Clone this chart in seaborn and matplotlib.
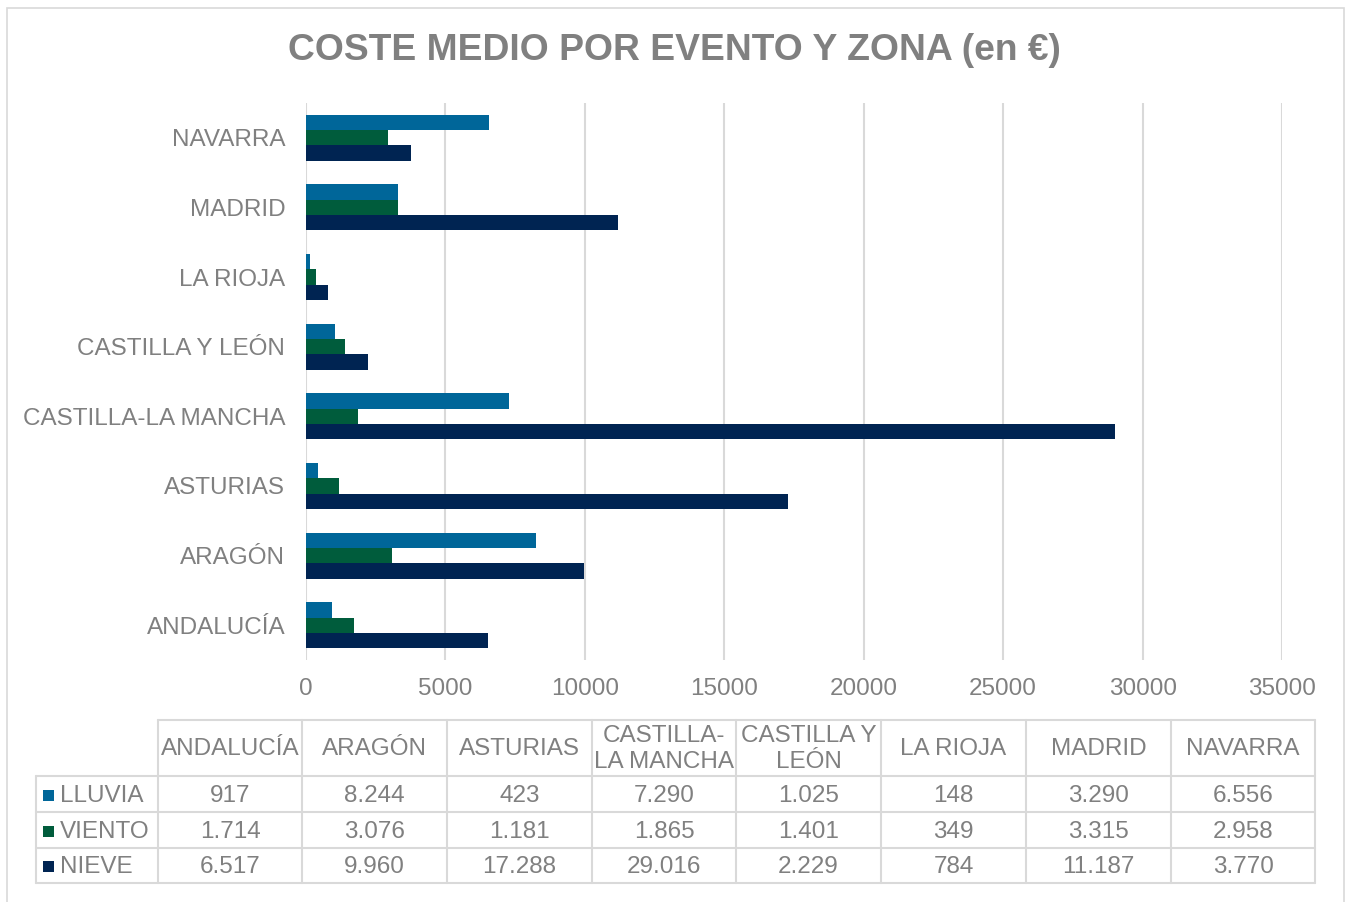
import matplotlib
matplotlib.use("Agg")
import matplotlib.pyplot as plt
from matplotlib.patches import Rectangle
from matplotlib.lines import Line2D
import seaborn as sns
import pandas as pd

# Data: average cost per event type and region (EUR)
regions = ["ANDALUCÍA", "ARAGÓN", "ASTURIAS", "CASTILLA-LA MANCHA",
           "CASTILLA Y LEÓN", "LA RIOJA", "MADRID", "NAVARRA"]
table_headers = ["ANDALUCÍA", "ARAGÓN", "ASTURIAS", "CASTILLA-\nLA MANCHA",
                 "CASTILLA Y\nLEÓN", "LA RIOJA", "MADRID", "NAVARRA"]
events = ["LLUVIA", "VIENTO", "NIEVE"]
lluvia = [917, 8244, 423, 7290, 1025, 148, 3290, 6556]
viento = [1714, 3076, 1181, 1865, 1401, 349, 3315, 2958]
nieve = [6517, 9960, 17288, 29016, 2229, 784, 11187, 3770]
x_ticks = [0, 5000, 10000, 15000, 20000, 25000, 30000, 35000]

colors = {"LLUVIA": "#006699", "VIENTO": "#005C3C", "NIEVE": "#002452"}
TXT = "#808080"
GRID = "#D9D9D9"
FS = 17.5

sns.set_theme(style="white")
plt.rcParams["font.family"] = ["Liberation Sans", "DejaVu Sans"]

series = {"LLUVIA": lluvia, "VIENTO": viento, "NIEVE": nieve}
df = pd.DataFrame(
    [(r, e, series[e][i]) for e in events for i, r in enumerate(regions)],
    columns=["Zona", "Evento", "Coste"],
)

W, H = 1348, 902
fig = plt.figure(figsize=(W / 100, H / 100), dpi=100)


def fx(px):
    return px / W


def fy(py):
    return 1 - py / H


# outer chart frame
fig.patches.append(Rectangle((fx(7), fy(903)), fx(1344 - 7), (903 - 8) / H,
                             transform=fig.transFigure, fill=False,
                             edgecolor=GRID, linewidth=1.2))

ax = fig.add_axes([fx(306), fy(660), fx(1282 - 306), (660 - 103) / H])
sns.barplot(data=df, y="Zona", x="Coste", hue="Evento", orient="h",
            order=regions[::-1], hue_order=events, palette=colors,
            width=0.66, saturation=1, linewidth=0, legend=False, ax=ax)

ax.set_xlim(0, 35000)
ax.set_xticks(x_ticks)
ax.set_xticklabels([str(t) for t in x_ticks])
ax.xaxis.grid(True, color=GRID, linewidth=1.5)
ax.set_axisbelow(True)
for s in ax.spines.values():
    s.set_visible(False)
ax.set_xlabel("")
ax.set_ylabel("")
ax.tick_params(axis="x", length=0, pad=13, labelsize=FS, labelcolor=TXT)
ax.tick_params(axis="y", length=0, pad=15, labelsize=FS, labelcolor=TXT)

fig.text(0.5, fy(51), "COSTE MEDIO POR EVENTO Y ZONA (en €)", ha="center",
         va="center", fontsize=26.8, fontweight="bold", color=TXT)

# data table below the chart
col_edges = [158, 302, 447, 592, 736, 881, 1026, 1171, 1315]
row_edges = [720, 776, 812, 848, 883]
label_left = 36


def hline(y, x0, x1):
    fig.add_artist(Line2D([fx(x0), fx(x1)], [fy(y), fy(y)],
                          transform=fig.transFigure, color=GRID, linewidth=1.5))


def vline(x, y0, y1):
    fig.add_artist(Line2D([fx(x), fx(x)], [fy(y0), fy(y1)],
                          transform=fig.transFigure, color=GRID, linewidth=1.5))


hline(row_edges[0], col_edges[0], col_edges[-1])
for y in row_edges[1:]:
    hline(y, label_left, col_edges[-1])
vline(label_left, row_edges[1], row_edges[-1])
for x in col_edges:
    vline(x, row_edges[0], row_edges[-1])

for j, head in enumerate(table_headers):
    cx = (col_edges[j] + col_edges[j + 1]) / 2
    cy = (row_edges[0] + row_edges[1]) / 2 + 1
    fig.text(fx(cx), fy(cy), head, ha="center", va="center", fontsize=FS,
             color=TXT, linespacing=1.22)

for i, ev in enumerate(events):
    cy = (row_edges[i + 1] + row_edges[i + 2]) / 2 + 1.5
    fig.patches.append(Rectangle((fx(43), fy(cy + 5)), fx(11), 11 / H,
                                 transform=fig.transFigure,
                                 facecolor=colors[ev], edgecolor="none"))
    fig.text(fx(60), fy(cy), ev, ha="left", va="center", fontsize=FS, color=TXT)
    for j, v in enumerate(series[ev]):
        cx = (col_edges[j] + col_edges[j + 1]) / 2
        fig.text(fx(cx), fy(cy), f"{v:,}".replace(",", "."), ha="center",
                 va="center", fontsize=FS, color=TXT)

fig.savefig("out.png", dpi=100)
